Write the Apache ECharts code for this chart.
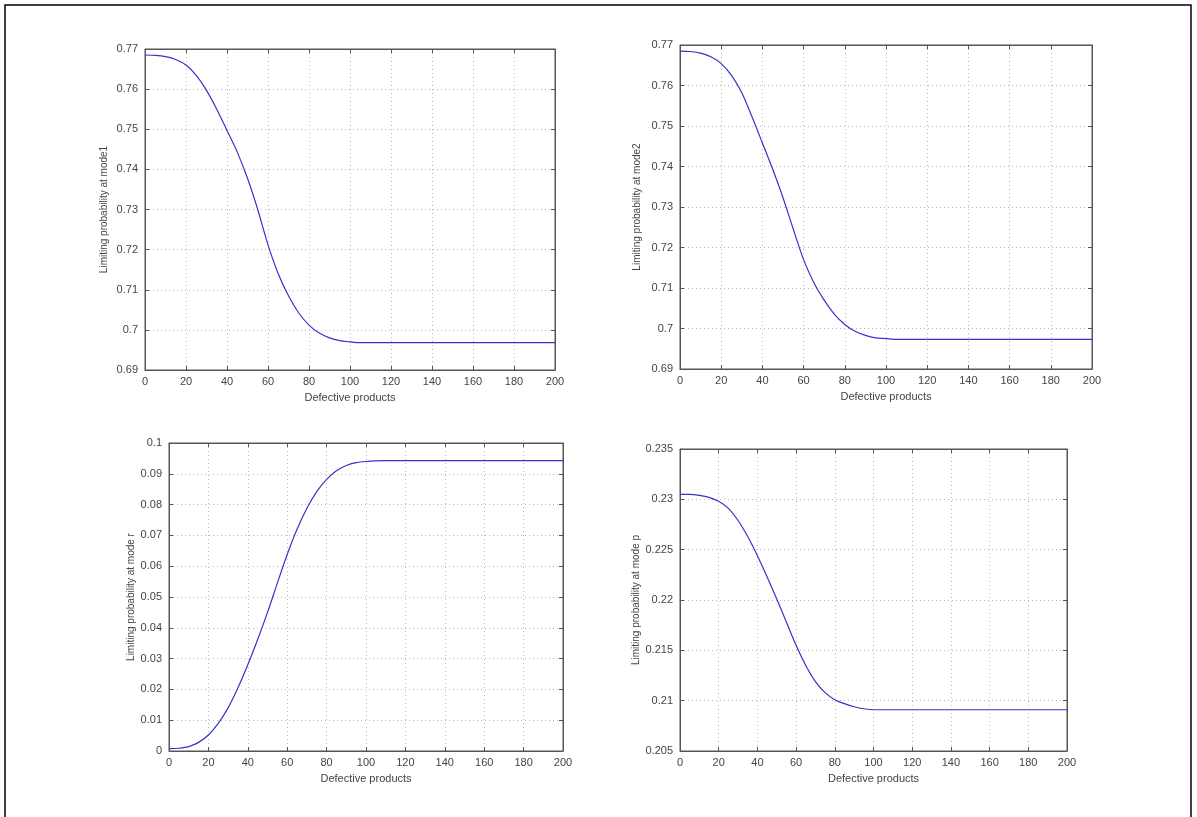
<!DOCTYPE html>
<html>
<head>
<meta charset="utf-8">
<script src="https://cdn.jsdelivr.net/npm/echarts@6/dist/echarts.min.js"></script>
<style>
html,body{margin:0;padding:0;background:#fff;}
#chart{width:1197px;height:817px;}
</style>
</head>
<body>
<div id="chart"></div>
<script>
// Shared x positions (Defective products)
var xValues = [0,5,10,15,20,25,30,35,40,45,50,55,60,65,70,75,80,85,90,95,100,105,110,120,140,160,180,200];

// Limiting probability at mode1
var mode1Values = [0.7685,0.7684,0.7681,0.7674,0.7660,0.7634,0.7597,0.7550,0.7497,0.7443,0.7378,0.7300,0.7212,0.7140,0.7085,0.7042,0.7012,0.6992,0.6980,0.6973,0.6970,0.6968,0.6968,0.6968,0.6968,0.6968,0.6968,0.6968];
// Limiting probability at mode2
var mode2Values = [0.7685,0.7684,0.7680,0.7671,0.7654,0.7625,0.7582,0.7522,0.7458,0.7393,0.7323,0.7245,0.7170,0.7113,0.7070,0.7035,0.7010,0.6993,0.6983,0.6977,0.6975,0.6973,0.6973,0.6973,0.6973,0.6973,0.6973,0.6973];
// Limiting probability at mode r
var modeRValues = [0.0008,0.0009,0.0014,0.0028,0.0052,0.0090,0.0140,0.0205,0.0280,0.0362,0.0450,0.0545,0.0638,0.0720,0.0788,0.0842,0.0882,0.0910,0.0927,0.0936,0.0940,0.0942,0.0943,0.0943,0.0943,0.0943,0.0943,0.0943];
// Limiting probability at mode p
var modePValues = [0.2305,0.2305,0.2304,0.2302,0.2298,0.2291,0.2279,0.2263,0.2244,0.2223,0.2201,0.2178,0.2155,0.2135,0.2119,0.2108,0.2101,0.2097,0.2094,0.2092,0.2091,0.2091,0.2091,0.2091,0.2091,0.2091,0.2091,0.2091];

var xTitle = 'Defective products';
var yTitles = ['Limiting probability at mode1','Limiting probability at mode2','Limiting probability at mode r','Limiting probability at mode p'];
var yRanges = [[0.69,0.77,0.01],[0.69,0.77,0.01],[0,0.1,0.01],[0.205,0.235,0.005]];
var xRange = [0,200,20];

var panels = [
  {left:145, top:49, width:410, height:321, nameGap:36},
  {left:680, top:45, width:412, height:324, nameGap:38},
  {left:169, top:443, width:394, height:308, nameGap:32},
  {left:680, top:449, width:387, height:302, nameGap:39}
];
var seriesData = [mode1Values, mode2Values, modeRValues, modePValues];

var FONT = 'Liberation Sans, Arial, sans-serif';
var axisColor = '#555';
var textColor = '#444';
var gridLine = {show:true, lineStyle:{color:'#b8b8b8', type:[1,3], width:1}};

var grids=[], xAxes=[], yAxes=[], series=[];
panels.forEach(function(p,i){
  grids.push({left:p.left, top:p.top, width:p.width, height:p.height, show:true, backgroundColor:'#fff', borderColor:axisColor, borderWidth:1});
  xAxes.push({type:'value', gridIndex:i, min:xRange[0], max:xRange[1], interval:xRange[2], position:'bottom',
    name:xTitle, nameLocation:'middle', nameGap:22, nameTextStyle:{fontFamily:FONT, fontSize:11, color:textColor},
    axisLine:{show:true, onZero:false, lineStyle:{color:axisColor}},
    axisTick:{show:true, inside:true, length:4, lineStyle:{color:axisColor}},
    axisLabel:{show:true, margin:6, fontFamily:FONT, fontSize:11, color:textColor},
    splitLine:gridLine});
  xAxes.push({type:'value', gridIndex:i, min:xRange[0], max:xRange[1], interval:xRange[2], position:'top',
    axisLine:{show:true, onZero:false, lineStyle:{color:axisColor}},
    axisTick:{show:true, inside:true, length:4, lineStyle:{color:axisColor}},
    axisLabel:{show:false}, splitLine:{show:false}});
  var yr = yRanges[i];
  yAxes.push({type:'value', gridIndex:i, min:yr[0], max:yr[1], interval:yr[2], position:'left',
    name:yTitles[i], nameLocation:'middle', nameGap:p.nameGap, nameRotate:90,
    nameTextStyle:{fontFamily:FONT, fontSize:10, color:textColor},
    axisLine:{show:true, onZero:false, lineStyle:{color:axisColor}},
    axisTick:{show:true, inside:true, length:4, lineStyle:{color:axisColor}},
    axisLabel:{show:true, margin:7, fontFamily:FONT, fontSize:11, color:textColor},
    splitLine:gridLine});
  yAxes.push({type:'value', gridIndex:i, min:yr[0], max:yr[1], interval:yr[2], position:'right',
    axisLine:{show:true, onZero:false, lineStyle:{color:axisColor}},
    axisTick:{show:true, inside:true, length:4, lineStyle:{color:axisColor}},
    axisLabel:{show:false}, splitLine:{show:false}});
  var data = xValues.map(function(x,k){ return [x, seriesData[i][k]]; });
  series.push({type:'line', xAxisIndex:2*i, yAxisIndex:2*i, data:data, smooth:0.3, showSymbol:false,
    lineStyle:{color:'#3434c8', width:1.2}, animation:false, z:5});
});

var chart = echarts.init(document.getElementById('chart'), null, {renderer:'canvas'});
chart.setOption({
  animation:false,
  backgroundColor:'#fff',
  grid:grids, xAxis:xAxes, yAxis:yAxes, series:series,
  graphic:[{type:'rect', shape:{x:5, y:5, width:1186, height:830}, style:{fill:'none', stroke:'#000', lineWidth:1.5}, silent:true}]
});
</script>
</body>
</html>
